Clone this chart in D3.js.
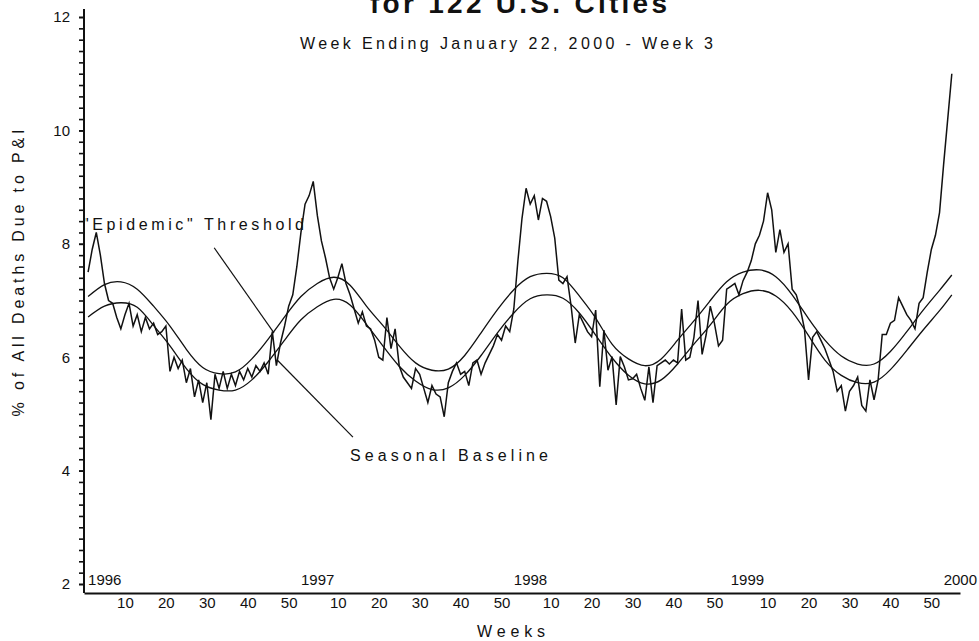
<!DOCTYPE html>
<html lang="en">
<head>
<meta charset="utf-8">
<title>P&I Mortality</title>
<script src="https://cdn.jsdelivr.net/npm/d3@7"></script>
<style>
  body { margin: 0; background: #fff; }
  text { font-family: "Liberation Sans", Arial, sans-serif; fill: #111; }
</style>
</head>
<body>
<script>
// weekly % of deaths due to P&I, one array per year (MMWR weeks)
var years = [1996, 1997, 1998, 1999, 2000];
var pi1996 = [7.5, 7.9, 8.2, 7.8, 7.3, 7.0, 6.95, 6.7, 6.5, 6.75, 6.95, 6.55, 6.75, 6.45, 6.7, 6.5, 6.6, 6.4, 6.45, 6.55,
              5.75, 6.0, 5.8, 5.95, 5.55, 5.8, 5.3, 5.6, 5.2, 5.55, 4.9, 5.7, 5.45, 5.75, 5.45, 5.7, 5.5, 5.75, 5.6, 5.8,
              5.65, 5.85, 5.75, 5.9, 5.7, 6.45, 5.85, 6.25, 6.55, 6.9, 7.1, 7.6];
var pi1997 = [8.2, 8.7, 8.85, 9.1, 8.5, 8.05, 7.75, 7.4, 7.2, 7.4, 7.65, 7.3, 7.1, 6.85, 6.6, 6.8, 6.55, 6.5, 6.3, 6.0,
              5.95, 6.7, 6.15, 6.5, 5.85, 5.65, 5.55, 5.45, 5.8, 5.7, 5.45, 5.2, 5.5, 5.35, 5.3, 4.95, 5.55, 5.75, 5.9, 5.7,
              5.75, 5.5, 5.9, 5.95, 5.7, 5.9, 6.05, 6.2, 6.4, 6.3, 6.55, 6.45];
var pi1998 = [6.85, 7.7, 8.45, 8.98, 8.7, 8.85, 8.42, 8.8, 8.75, 8.48, 8.1, 7.36, 7.3, 7.42, 6.9, 6.25, 6.75, 6.6, 6.45, 6.36,
              6.83, 5.48, 6.48, 5.77, 6.01, 5.16, 6.01, 5.83, 5.6, 5.62, 5.7, 5.45, 5.24, 5.83, 5.2, 5.85, 5.9, 5.95, 5.88, 5.95,
              5.9, 6.85, 5.95, 6.0, 6.35, 7.0, 6.05, 6.4, 6.9, 6.6, 6.2, 6.3, 7.2];
var pi1999 = [7.25, 7.3, 7.1, 7.35, 7.5, 7.7, 8.0, 8.15, 8.4, 8.9, 8.6, 7.85, 8.25, 7.85, 8.0, 7.2, 7.1, 6.85, 6.5, 5.6,
              6.35, 6.45, 6.3, 6.15, 5.95, 5.75, 5.4, 5.5, 5.05, 5.4, 5.5, 5.65, 5.15, 5.05, 5.6, 5.25, 5.6, 6.4, 6.4, 6.6,
              6.65, 7.05, 6.9, 6.75, 6.65, 6.5, 6.95, 7.05, 7.5, 7.9, 8.15, 8.55];
var pi2000 = [9.4, 10.2, 11.0];

// seasonal baseline and epidemic threshold, read every few weeks (week index, 1 = 1996 wk 1)
var curveWeeks = [1, 5, 9, 13, 17, 21, 25, 29, 33, 37, 41, 45, 49, 53, 57, 61, 65, 69, 73, 77, 81, 85, 89, 93, 97,
                  101, 105, 109, 113, 117, 121, 125, 129, 133, 137, 141, 145, 149, 153, 157, 161, 165, 169, 173, 177,
                  181, 185, 189, 193, 197, 201, 205, 209, 212];
var threshold = [7.07, 7.28, 7.33, 7.2, 6.9, 6.55, 6.14, 5.82, 5.71, 5.74, 5.97, 6.32, 6.71, 7.07, 7.3, 7.41, 7.27, 6.9,
                 6.56, 6.2, 5.9, 5.77, 5.79, 6.03, 6.43, 6.84, 7.19, 7.42, 7.48, 7.4, 7.08, 6.69, 6.23, 5.97, 5.85, 5.97,
                 6.3, 6.64, 7.0, 7.33, 7.5, 7.54, 7.42, 7.1, 6.68, 6.3, 6.02, 5.88, 5.88, 6.1, 6.45, 6.83, 7.18, 7.45];
var baseline = [6.71, 6.9, 6.96, 6.88, 6.56, 6.2, 5.8, 5.52, 5.42, 5.42, 5.6, 5.92, 6.3, 6.66, 6.89, 7.02, 6.92, 6.58,
                6.2, 5.84, 5.58, 5.43, 5.46, 5.68, 6.03, 6.43, 6.78, 7.03, 7.1, 7.04, 6.78, 6.39, 5.99, 5.68, 5.53, 5.6,
                5.88, 6.23, 6.57, 6.93, 7.12, 7.18, 7.08, 6.8, 6.38, 5.95, 5.68, 5.55, 5.56, 5.78, 6.12, 6.48, 6.82, 7.1];

var yTicks = [2, 4, 6, 8, 10, 12];
var weekTicks = [10, 20, 30, 40, 50];

var width = 979, height = 641;
var axisY = 593;

var series = [pi1996, pi1997, pi1998, pi1999, pi2000];
var data = [], yearStart = [], idx = 1;
series.forEach(function (arr, k) {
  yearStart.push(idx);
  arr.forEach(function (v) { data.push({i: idx, v: v}); idx++; });
});

var x = d3.scaleLinear().domain([0, 214]).range([84, 960]);
var y = d3.scaleLinear().domain([2, 12]).range([584, 17]);

var svg = d3.select("body").append("svg")
    .attr("width", width)
    .attr("height", height);

// title (first line is off the top of the picture)
svg.append("text")
    .attr("x", 370).attr("y", 13)
    .attr("textLength", 297).attr("lengthAdjust", "spacing")
    .style("font-size", "28px").style("font-weight", "bold")
    .text("for 122 U.S. Cities");

svg.append("text")
    .attr("x", 300).attr("y", 49)
    .attr("textLength", 413).attr("lengthAdjust", "spacing")
    .style("font-size", "16px")
    .text("Week Ending January 22, 2000 - Week 3");

// y axis
var yMinor = d3.range(2, 12.001, 0.2);
svg.append("g")
    .attr("transform", "translate(84,0)")
    .call(d3.axisLeft(y).tickValues(yMinor).tickSize(5).tickFormat(""))
    .call(function (g) { g.select(".domain").remove(); })
    .selectAll("line").attr("stroke", "#111").attr("stroke-width", 1.6);

svg.append("g")
    .attr("transform", "translate(84,0)")
    .call(d3.axisLeft(y).tickValues(yTicks).tickSize(5).tickPadding(9).tickFormat(d3.format("d")))
    .call(function (g) { g.select(".domain").remove(); })
    .call(function (g) {
      g.selectAll("line").attr("stroke", "#111").attr("stroke-width", 1.6);
      g.selectAll("text").style("font-size", "15px").attr("fill", "#111");
    });

svg.append("line")
    .attr("x1", x(0)).attr("x2", x(0))
    .attr("y1", 9).attr("y2", axisY)
    .attr("stroke", "#111").attr("stroke-width", 2);

// x axis: week numbers within each year
var weekIdx = [], weekLab = {};
yearStart.forEach(function (s, k) {
  weekTicks.forEach(function (w) {
    if (w <= series[k].length) { weekIdx.push(s + w - 1); weekLab[s + w - 1] = w; }
  });
});

svg.append("g")
    .attr("transform", "translate(0," + axisY + ")")
    .call(d3.axisBottom(x).tickValues(weekIdx).tickSize(0).tickPadding(4)
            .tickFormat(function (d) { return weekLab[d]; }))
    .call(function (g) {
      g.select(".domain").attr("stroke", "#111").attr("stroke-width", 2);
      g.selectAll("text").style("font-size", "15px").attr("fill", "#111");
    });

svg.selectAll(".year")
    .data(years)
    .enter().append("text")
    .attr("class", "year")
    .attr("x", function (d, k) { return x(yearStart[k]); })
    .attr("y", 585)
    .style("font-size", "15px")
    .text(function (d) { return d; });

// axis titles
svg.append("text")
    .attr("transform", "translate(24,273) rotate(-90)")
    .attr("text-anchor", "middle")
    .attr("textLength", 287).attr("lengthAdjust", "spacing")
    .style("font-size", "16px")
    .text("% of All Deaths Due to P&I");

svg.append("text")
    .attr("x", 477).attr("y", 637)
    .attr("textLength", 68).attr("lengthAdjust", "spacing")
    .style("font-size", "16px")
    .text("Weeks");

// baseline + threshold
var smooth = d3.line()
    .x(function (d, k) { return x(curveWeeks[k]); })
    .y(function (d) { return y(d); })
    .curve(d3.curveNatural);

[threshold, baseline].forEach(function (arr) {
  svg.append("path")
      .attr("d", smooth(arr))
      .attr("fill", "none")
      .attr("stroke", "#111")
      .attr("stroke-width", 1.3);
});

// observed weekly series
var line = d3.line()
    .x(function (d) { return x(d.i); })
    .y(function (d) { return y(d.v); });

svg.append("path")
    .datum(data)
    .attr("d", line)
    .attr("fill", "none")
    .attr("stroke", "#111")
    .attr("stroke-width", 1.5)
    .attr("stroke-linejoin", "miter");

// annotations (positions in data units)
var pointers = [
  [[31.8, 7.93], [46.4, 6.43]],
  [[47.2, 5.95], [65.7, 4.59]]
];
pointers.forEach(function (p) {
  svg.append("line")
      .attr("x1", x(p[0][0])).attr("y1", y(p[0][1]))
      .attr("x2", x(p[1][0])).attr("y2", y(p[1][1]))
      .attr("stroke", "#111").attr("stroke-width", 1.2);
});

svg.append("text")
    .attr("x", 83).attr("y", 230)
    .attr("textLength", 221).attr("lengthAdjust", "spacing")
    .style("font-size", "16px")
    .text("\"Epidemic\" Threshold");

svg.append("text")
    .attr("x", 350).attr("y", 461)
    .attr("textLength", 198).attr("lengthAdjust", "spacing")
    .style("font-size", "16px")
    .text("Seasonal Baseline");
</script>
</body>
</html>
